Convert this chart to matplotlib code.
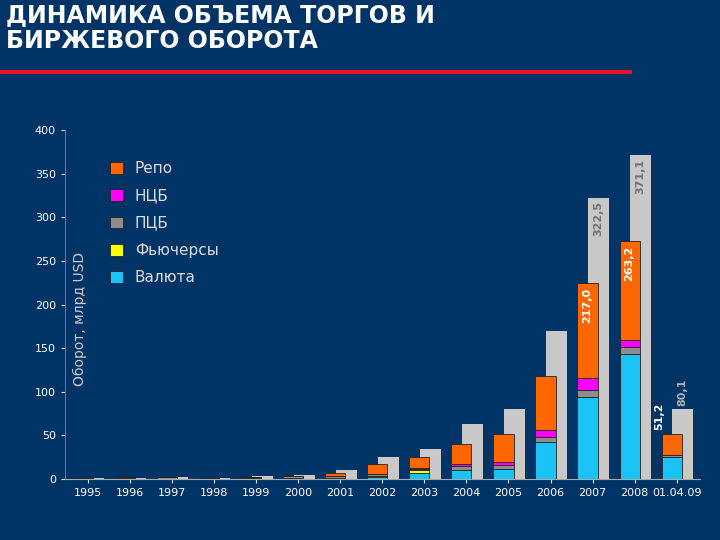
import matplotlib
matplotlib.use("Agg")
import matplotlib.pyplot as plt
import numpy as np

cats = ["1995","1996","1997","1998","1999","2000","2001","2002","2003","2004","2005","2006","2007","2008","01.04.09"]
valuta = [1,1,0.3,1,1.5,1,1,2,7,10,12,42,94,143,25]
futures = [0,0,0,0,0,0,0,1,3,0,0,0,0,0,0]
pcb = [0,1.5,2.5,0,0.5,2,2,3,2,5,4,6,8,8,2]
ncb = [0,0,0,0,0,0,0,0,0.5,2,4,8,14,8,1]
repo = [0,0,0,0,0,0.5,4,11,12.5,23,32,62,109,114,24]
total = [1,1.5,2,1.5,3,5,10,25,34,63,80,170,322.5,371.1,80.1]
inner_labels = {12:"217,0",13:"263,2"}
total_labels = {12:"322,5",13:"371,1",14:"80,1"}
side_labels = {14:"51,2"}

BG = "#003366"
fig = plt.figure(figsize=(7.2,5.4), dpi=100, facecolor=BG)
ax = fig.add_axes([0.09,0.113,0.882,0.646], facecolor=BG)
x = np.arange(len(cats))
ax.bar(x+0.14, total, 0.5, color="#c8c8c8", zorder=1)
series = [(valuta,"#19c3f5","Валюта"),(futures,"#ffff00","Фьючерсы"),(pcb,"#8c8c8c","ПЦБ"),(ncb,"#ff00ff","НЦБ"),(repo,"#ff6600","Репо")]
bottom = np.zeros(len(cats))
handles=[]
for vals,c,lab in series:
    h = ax.bar(x-0.12, vals, 0.48, bottom=bottom, color=c, edgecolor="#222222", linewidth=0.6, zorder=2, label=lab)
    handles.append(h)
    bottom += np.array(vals)
for i,t in inner_labels.items():
    ax.text(x[i]-0.12, bottom[i]-6, t, rotation=90, ha="center", va="top", color="white", fontsize=8, fontweight="bold", zorder=3)
for i,t in total_labels.items():
    ax.text(x[i]+0.14, total[i]-4 if i<14 else total[i]+4, t, rotation=90, ha="center", va="top" if i<14 else "bottom", color="#707070" if i<14 else "#b0b0b0", fontsize=8, fontweight="bold", zorder=3)
for i,t in side_labels.items():
    ax.text(x[i]-0.42, bottom[i]+4, t, rotation=90, ha="center", va="bottom", color="white", fontsize=8, fontweight="bold", zorder=3)
ax.set_xlim(-0.55, len(cats)-0.45)
ax.set_ylim(0,400)
ax.set_yticks(range(0,401,50))
ax.set_xticks(x)
ax.set_xticklabels(cats)
ax.tick_params(colors="#dddddd", labelsize=8, length=3)
for lab in ax.get_xticklabels()+ax.get_yticklabels():
    lab.set_color("white")
for s in ["top","right"]:
    ax.spines[s].set_visible(False)
ax.spines["left"].set_color("#5577aa")
ax.spines["bottom"].set_color("#aaaaaa")
ax.text(0.024, 0.46, "Оборот, млрд USD", transform=ax.transAxes, rotation=90, ha="center", va="center", color="#cccccc", fontsize=10)
leg = ax.legend(handles[::-1], [s[2] for s in series][::-1], loc="upper left", bbox_to_anchor=(0.05,0.95), frameon=False, labelcolor="#dddddd", fontsize=11, handlelength=0.8, handleheight=0.8, labelspacing=0.8)
fig.text(0.008,0.995,"ДИНАМИКА ОБЪЕМА ТОРГОВ И\nБИРЖЕВОГО ОБОРОТА", color="white", fontsize=17, fontweight="bold", va="top", ha="left", linespacing=1.1)
fig.add_artist(plt.Line2D([0,0.875],[0.867,0.867], color="#e8102a", linewidth=3))
fig.savefig("out.png", dpi=100, facecolor=BG)
